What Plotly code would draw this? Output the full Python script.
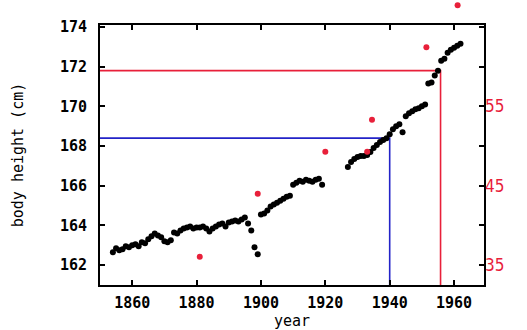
import plotly.graph_objects as go

# Body height series (left axis, cm)
years = [1854, 1855, 1856, 1857, 1858, 1859, 1860, 1861, 1862, 1863, 1864, 1865, 1866, 1867,
         1868, 1869, 1870, 1871, 1872, 1873, 1874, 1875, 1876, 1877, 1878, 1879, 1880, 1881,
         1882, 1883, 1884, 1885, 1886, 1887, 1888, 1889, 1890, 1891, 1892, 1893, 1894, 1895,
         1896, 1897, 1898, 1899, 1900, 1901, 1902, 1903, 1904, 1905, 1906, 1907, 1908, 1909,
         1910, 1911, 1912, 1913, 1914, 1915, 1916, 1917, 1918, 1919,
         1927, 1928, 1929, 1930, 1931, 1932, 1933, 1934, 1935, 1936, 1937, 1938, 1939, 1940,
         1941, 1942, 1943, 1944, 1945, 1946, 1947, 1948, 1949, 1950, 1951, 1952, 1953, 1954,
         1955, 1956, 1957, 1958, 1959, 1960, 1961, 1962]
heights = [162.65, 162.85, 162.75, 162.8, 162.95, 162.9, 163.0, 163.05, 162.95, 163.15, 163.1, 163.3, 163.45, 163.6,
           163.5, 163.4, 163.2, 163.15, 163.25, 163.65, 163.6, 163.75, 163.85, 163.9, 163.95, 163.85, 163.9, 163.9,
           163.95, 163.85, 163.7, 163.85, 163.95, 164.05, 164.1, 163.95, 164.15, 164.2, 164.25, 164.2, 164.3, 164.4,
           164.1, 163.75, 162.9, 162.55, 164.55, 164.6, 164.75, 164.95, 165.05, 165.15, 165.25, 165.35, 165.45, 165.5,
           166.05, 166.15, 166.25, 166.2, 166.3, 166.25, 166.2, 166.3, 166.35, 166.05,
           166.95, 167.2, 167.35, 167.45, 167.5, 167.5, 167.55, 167.7, 167.9, 168.05, 168.2, 168.3, 168.4, 168.6,
           168.85, 169.0, 169.1, 168.7, 169.5, 169.65, 169.75, 169.85, 169.9, 170.0, 170.1, 171.15, 171.2, 171.55,
           171.8, 172.3, 172.4, 172.7, 172.85, 172.95, 173.05, 173.15]

# Red points (right axis)
red_years = [1881, 1899, 1920, 1933, 1934.5, 1951.4, 1961.1]
red_values = [36.05, 44.0, 49.3, 49.3, 53.3, 62.45, 67.75]

# Reference lines (left axis units)
blue_year, blue_height = 1940, 168.4
red_year, red_height = 1955.8, 171.8

x_range = [1850, 1969.3]
y_range = [161, 174.1]
y2_range = [32.5, 65.25]
x_ticks = [1860, 1880, 1900, 1920, 1940, 1960]
y_ticks = [162, 164, 166, 168, 170, 172, 174]
y2_ticks = [35, 45, 55]

RED = "#e8203a"
BLUE = "#2323c8"
mono = "DejaVu Sans Mono"

fig = go.Figure()
fig.add_trace(go.Scatter(x=[x_range[0], red_year, red_year], y=[red_height, red_height, y_range[0]],
                         mode="lines", line=dict(color=RED, width=1.6), hoverinfo="skip"))
fig.add_trace(go.Scatter(x=[x_range[0], blue_year, blue_year], y=[blue_height, blue_height, y_range[0]],
                         mode="lines", line=dict(color=BLUE, width=1.6), hoverinfo="skip"))

# red points inside the y2 range as a trace; those beyond the frame as unclipped shapes
inside = [(x, v) for x, v in zip(red_years, red_values) if y2_range[0] <= v <= y2_range[1]]
outside = [(x, v) for x, v in zip(red_years, red_values) if not (y2_range[0] <= v <= y2_range[1])]
fig.add_trace(go.Scatter(x=[p[0] for p in inside], y=[p[1] for p in inside], yaxis="y2", mode="markers",
                         marker=dict(color=RED, size=6)))
for x, v in outside:
    ypaper = (v - y2_range[0]) / (y2_range[1] - y2_range[0])
    fig.add_shape(type="circle", xref="x", yref="paper", xsizemode="pixel", ysizemode="pixel",
                  xanchor=x, yanchor=ypaper, x0=-3, x1=3, y0=-3, y1=3,
                  fillcolor=RED, line=dict(width=0), layer="above")

fig.add_trace(go.Scatter(x=years, y=heights, mode="markers",
                         marker=dict(color="black", size=6)))

fig.update_layout(
    width=527, height=330,
    margin=dict(l=100, r=43, t=25, b=45, autoexpand=False),
    paper_bgcolor="white", plot_bgcolor="white",
    showlegend=False,
    font=dict(family=mono, size=15, color="black"),
    xaxis=dict(range=x_range, tickvals=x_ticks, ticks="inside", ticklen=5, tickwidth=1.5,
               tickcolor="black", showline=True, linecolor="black", linewidth=2, mirror="ticks",
               showgrid=False, zeroline=False, ticklabelstandoff=3, automargin=False,
               tickfont=dict(family=mono, size=15, weight="bold"),
               title=dict(text="year", font=dict(family=mono, size=15), standoff=0)),
    yaxis=dict(range=y_range, tickvals=y_ticks, ticks="inside", ticklen=5, tickwidth=1.5,
               tickcolor="black", showline=True, linecolor="black", linewidth=2, mirror="ticks",
               showgrid=False, zeroline=False, ticklabelstandoff=8, automargin=False,
               tickfont=dict(family=mono, size=15, weight="bold"),
               title=dict(text="body height (cm)", font=dict(family=mono, size=15), standoff=33)),
    yaxis2=dict(range=y2_range, overlaying="y", side="right", tickvals=y2_ticks, ticks="",
                showline=False, showgrid=False, zeroline=False, automargin=False,
                tickfont=dict(family="DejaVu Sans Condensed", size=17, color=RED)),
)

fig.write_html("out.html", config={"displayModeBar": False},
               post_script="document.body.style.margin='0';document.body.style.overflow='hidden';")
